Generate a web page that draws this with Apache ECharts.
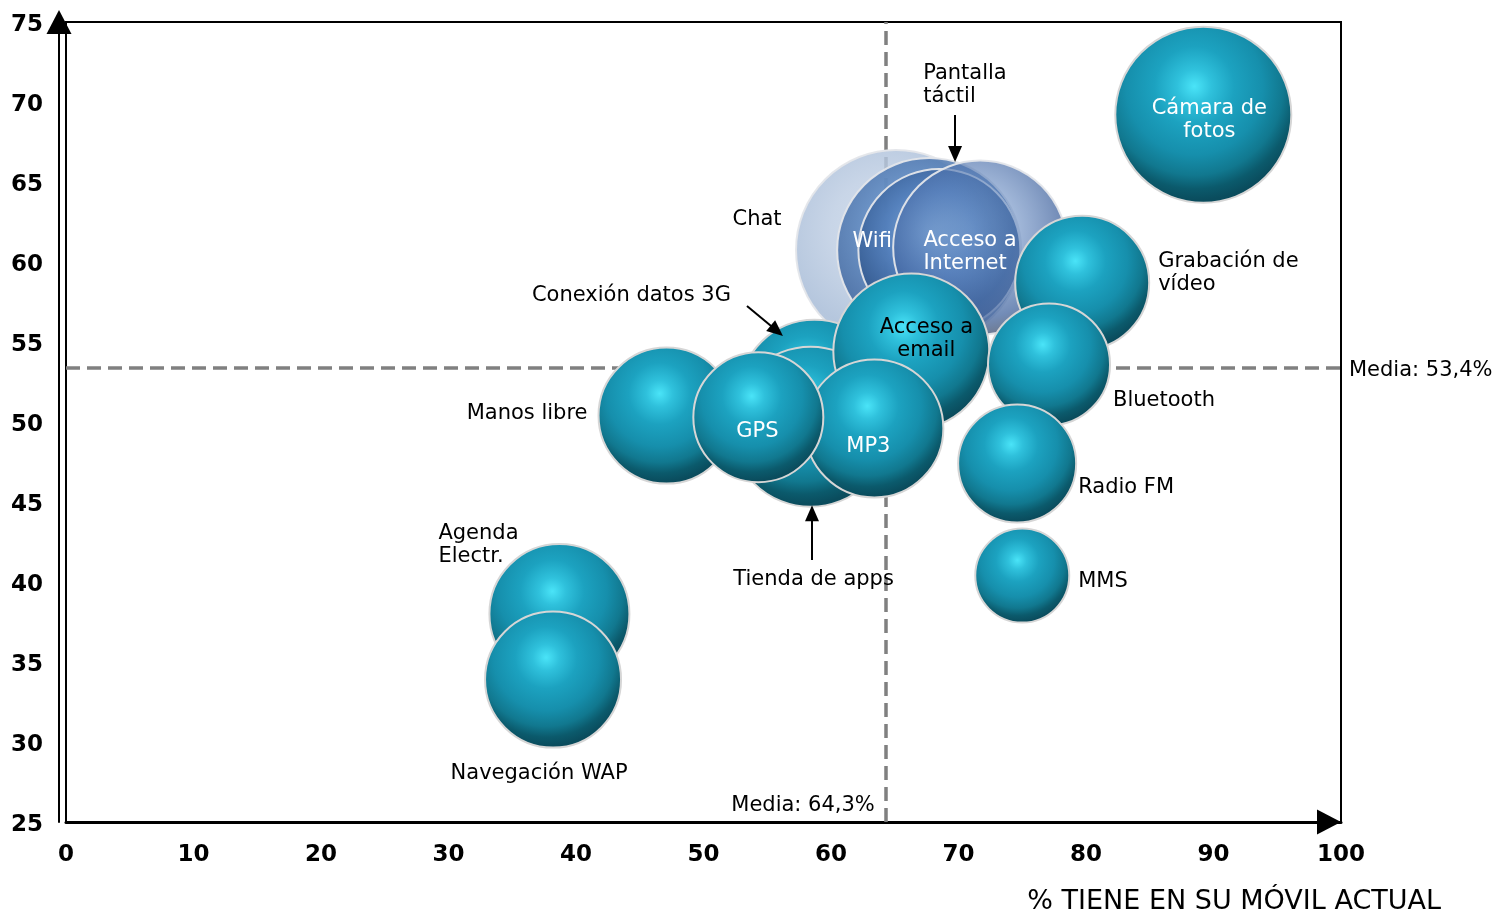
<!DOCTYPE html>
<html>
<head>
<meta charset="utf-8">
<script src="https://cdn.jsdelivr.net/npm/echarts@6/dist/echarts.min.js"></script>
<style>html,body{margin:0;padding:0;background:#fff;}#c{width:1503px;height:912px;}</style>
</head>
<body>
<div id="c"></div>
<script>
// ---- DATA ----
const names = ['Chat','Wifi','Acceso a Internet','Pantalla táctil','Cámara de fotos','Grabación de vídeo','Conexión datos 3G','Tienda de apps','Acceso a email','Bluetooth','Radio FM','MMS','Manos libre','MP3','GPS','Agenda Electr.','Navegación WAP'];
const labels = ['Chat','Wifi','Acceso a\nInternet','Pantalla\ntáctil','Cámara de\nfotos','Grabación de\nvídeo','Conexión datos 3G','Tienda de apps','Acceso a\nemail','Bluetooth','Radio FM','MMS','Manos libre','MP3','GPS','Agenda\nElectr.','Navegación WAP'];
const xs = [65.1, 67.7, 68.5, 71.7, 89.2, 79.7, 58.7, 58.4, 66.3, 77.1, 74.6, 75.0, 47.1, 63.4, 54.3, 38.7, 38.2];
const ys = [60.75, 60.75, 60.75, 60.9, 69.2, 58.7, 51.7, 49.7, 54.4, 53.6, 47.4, 40.4, 50.4, 49.6, 50.3, 38.0, 33.9];
const sizes = [100, 92, 81, 87, 88, 67, 75, 80, 78, 61, 59, 47, 68, 69, 65, 70, 68];
const meanX = 64.3, meanY = 53.4;
const meanXLabel = 'Media: 64,3%', meanYLabel = 'Media: 53,4%';
const xTicks = [0,10,20,30,40,50,60,70,80,90,100];
const yTicks = [25,30,35,40,45,50,55,60,65,70,75];
const xName = '% TIENE EN SU MÓVIL ACTUAL';
// annotation arrows [x1,y1,x2,y2] in data units
const arrows = [
  [69.73, 69.19, 69.73, 66.75],
  [58.51, 41.375, 58.51, 44.3],
  [53.41, 57.25, 55.75, 55.7]
];

// ---- STYLES ----
const FONT = 'DejaVu Sans';
const teal = {type:'radial', x:0.45, y:0.34, r:0.64, colorStops:[
  {offset:0, color:'#4ae4f8'},{offset:0.15, color:'#2fc1dc'},{offset:0.35, color:'#1ca2c0'},
  {offset:0.6, color:'#168fac'},{offset:0.78, color:'#11788f'},{offset:0.9, color:'#0b5a6c'},{offset:1, color:'#0a4c5d'}]};
function glass(c0, c1, c2, c3){
  return {type:'radial', x:0.45, y:0.4, r:0.6, colorStops:[
    {offset:0, color:c0},{offset:0.45, color:c1},{offset:0.85, color:c2},{offset:1, color:c3}]};
}
const glassColors = {
  'Chat': glass('rgba(205,218,235,0.85)','rgba(188,204,226,0.82)','rgba(165,186,214,0.82)','rgba(175,192,214,0.85)'),
  'Wifi': glass('rgba(120,165,215,0.82)','rgba(85,132,192,0.8)','rgba(60,100,158,0.82)','rgba(130,152,185,0.85)'),
  'Acceso a Internet': glass('rgba(135,175,218,0.85)','rgba(78,123,185,0.82)','rgba(48,86,140,0.85)','rgba(70,100,145,0.85)'),
  'Pantalla táctil': glass('rgba(125,160,208,0.45)','rgba(92,130,188,0.58)','rgba(66,100,158,0.74)','rgba(85,100,128,0.85)')
};
// label placement relative to the bubble centre: [dx, dy, align, color]
const labelStyle = {
  'Chat': [-139, -30, 'center', '#000'],
  'Wifi': [-57, -8, 'center', '#fff'],
  'Acceso a Internet': [-16, 2, 'left', '#fff'],
  'Pantalla táctil': [-57, -163, 'left', '#000'],
  'Cámara de fotos': [6, 5, 'center', '#fff'],
  'Grabación de vídeo': [76, -10, 'left', '#000'],
  'Conexión datos 3G': [-183, -99, 'center', '#000'],
  'Tienda de apps': [3, 153, 'center', '#000'],
  'Acceso a email': [15, -13, 'center', '#000'],
  'Bluetooth': [64, 36, 'left', '#000'],
  'Radio FM': [61, 24, 'left', '#000'],
  'MMS': [56, 6, 'left', '#000'],
  'Manos libre': [-79, -2, 'right', '#000'],
  'MP3': [-6, 18, 'center', '#fff'],
  'GPS': [-1, 14, 'center', '#fff'],
  'Agenda Electr.': [-121, -69, 'left', '#000'],
  'Navegación WAP': [-14, 94, 'center', '#000']
};

const bubbleData = names.map((n, i) => {
  const ls = labelStyle[n];
  const isGlass = !!glassColors[n];
  return {
    name: n,
    value: [xs[i], ys[i], sizes[i]],
    itemStyle: {
      opacity: 1,
      color: isGlass ? glassColors[n] : teal,
      borderColor: isGlass ? 'rgba(228,230,234,0.95)' : '#d6d6d6',
      borderWidth: 2
    },
    label: {
      show: true, formatter: labels[i], position: 'inside',
      offset: [ls[0], ls[1]], align: ls[2], verticalAlign: 'middle',
      color: ls[3], fontSize: 21, lineHeight: 23, fontFamily: FONT, textBorderWidth: 0
    }
  };
});

const noteStyle = {show: true, position: 'inside', verticalAlign: 'middle', color: '#000', fontSize: 21, fontFamily: FONT, textBorderWidth: 0};

const chart = echarts.init(document.getElementById('c'), null, {renderer:'canvas'});
chart.setOption({
  animation: false,
  backgroundColor: '#fff',
  grid: {left: 66, right: 162, top: 22, bottom: 90, containLabel: false, outerBoundsMode: 'none',
         show: true, borderColor: '#000', borderWidth: 2, backgroundColor: '#fff'},
  xAxis: {
    type: 'value', min: xTicks[0], max: xTicks[xTicks.length-1], interval: 10,
    axisLine: {show: true, onZero: false, symbol: ['none','triangle'], symbolSize: [25, 24], symbolOffset: [0, -12], lineStyle: {color: '#000', width: 3}},
    axisTick: {show: false}, splitLine: {show: false},
    axisLabel: {color: '#000', fontWeight: 'bold', fontSize: 23, fontFamily: FONT, margin: 22},
    name: xName, nameLocation: 'end', nameGap: 100,
    nameTextStyle: {color: '#000', fontSize: 27, fontFamily: FONT, align: 'right', verticalAlign: 'top', padding: [66, 0, 0, 0]}
  },
  yAxis: {
    type: 'value', min: yTicks[0], max: yTicks[yTicks.length-1], interval: 5, offset: 7,
    axisLine: {show: true, onZero: false, symbol: ['none','triangle'], symbolSize: [25, 24], lineStyle: {color: '#000', width: 2}},
    axisTick: {show: false}, splitLine: {show: false},
    axisLabel: {color: '#000', fontWeight: 'bold', fontSize: 23, fontFamily: FONT, margin: 16, verticalAlign: 'top', lineHeight: 7}
  },
  series: [
    {
      type: 'scatter', z: 1, data: [], silent: true,
      markLine: {
        silent: true, z: 1, symbol: ['none','none'], animation: false,
        lineStyle: {color: '#808080', width: 3.5, type: [14, 7]},
        label: {show: false},
        data: [{xAxis: meanX}, {yAxis: meanY}]
      }
    },
    {
      type: 'scatter', z: 2, data: bubbleData,
      symbolSize: v => v[2] * 2
    },
    {
      type: 'scatter', z: 3, symbolSize: 0, silent: true,
      data: [
        {value: [meanX, yTicks[0]], itemStyle: {opacity: 1}, label: Object.assign({}, noteStyle, {formatter: meanXLabel, align: 'right', offset: [-11, -16]})},
        {value: [xTicks[xTicks.length-1], meanY], itemStyle: {opacity: 1}, label: Object.assign({}, noteStyle, {formatter: meanYLabel, align: 'left', offset: [8, 3]})}
      ],
      markLine: {
        silent: true, z: 6, symbol: ['none','triangle'], symbolSize: [14, 16], animation: false,
        lineStyle: {color: '#000', width: 2, type: 'solid'}, label: {show: false},
        data: arrows.map(a => [{coord: [a[0], a[1]]}, {coord: [a[2], a[3]]}])
      }
    }
  ]
});
</script>
</body>
</html>
